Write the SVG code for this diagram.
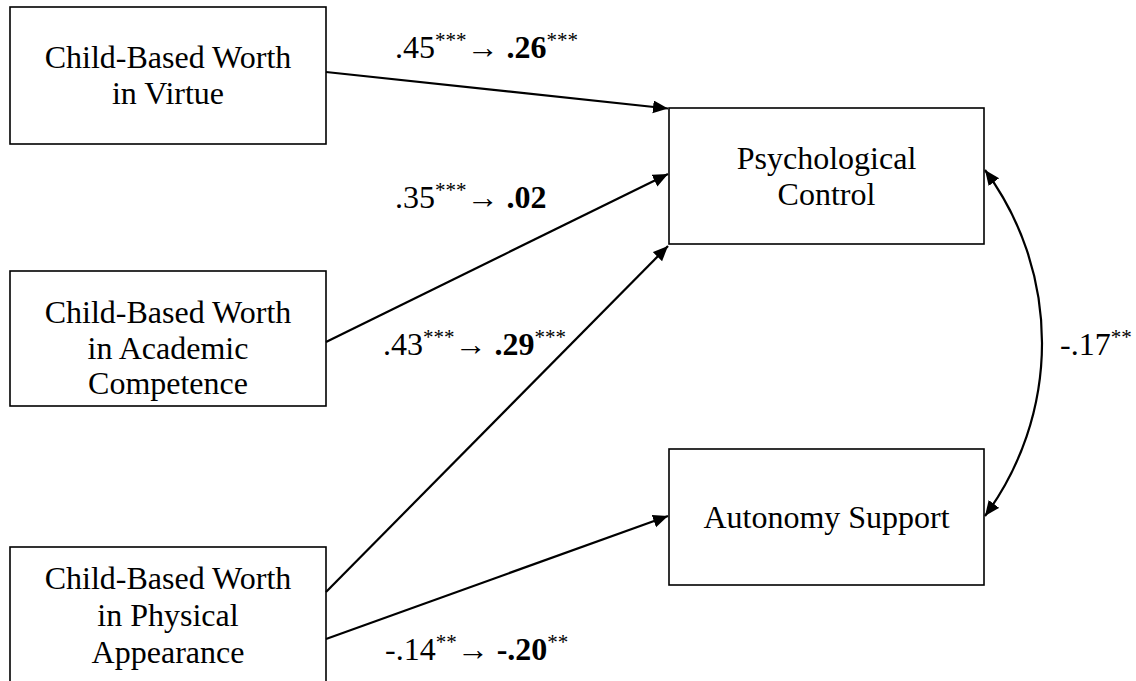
<svg xmlns="http://www.w3.org/2000/svg" width="1136" height="681" viewBox="0 0 1136 681">
<style>
.box{fill:#fff;stroke:#000;stroke-width:1.6}
.t{font-family:"Liberation Serif","Times New Roman",serif;font-size:32px;fill:#000}
.c{text-anchor:middle}
.sup{font-size:21px}
.b{font-weight:bold}
.edge{fill:none;stroke:#000;stroke-width:2.2}
</style>
<defs>
<marker id="ah" markerUnits="userSpaceOnUse" markerWidth="16" markerHeight="14" refX="15" refY="6.5" orient="auto-start-reverse" viewBox="0 0 16 14">
<path d="M0,0 L15,6.5 L0,13 z" fill="#000"/>
</marker>
</defs>
<rect width="1136" height="681" fill="#fff"/>
<g id="n-virtue">
<rect class="box" x="10" y="7" width="316" height="137"/>
<text class="t c" x="168" y="68">Child-Based Worth</text>
<text class="t c" x="168" y="104">in Virtue</text>
</g>
<g id="n-academic">
<rect class="box" x="10" y="271" width="316" height="135"/>
<text class="t c" x="168" y="323">Child-Based Worth</text>
<text class="t c" x="168" y="359">in Academic</text>
<text class="t c" x="168" y="394">Competence</text>
</g>
<g id="n-physical">
<rect class="box" x="10" y="547" width="316" height="150"/>
<text class="t c" x="168" y="589">Child-Based Worth</text>
<text class="t c" x="168" y="626">in Physical</text>
<text class="t c" x="168" y="663">Appearance</text>
</g>
<g id="n-psych">
<rect class="box" x="669" y="108" width="315" height="136"/>
<text class="t c" x="826.5" y="169">Psychological</text>
<text class="t c" x="826.5" y="205">Control</text>
</g>
<g id="n-autonomy">
<rect class="box" x="669" y="449" width="315" height="136"/>
<text class="t c" x="826.5" y="528">Autonomy Support</text>
</g>
<g id="connectors">
<path class="edge" d="M326,72 L668,108.5" marker-end="url(#ah)"/>
<path class="edge" d="M326,342 L668,174" marker-end="url(#ah)"/>
<path class="edge" d="M326,592 L668,246" marker-end="url(#ah)"/>
<path class="edge" d="M326,639 L668,516" marker-end="url(#ah)"/>
<path class="edge" d="M985,170 A291,291 0 0 1 985,516" marker-start="url(#ah)" marker-end="url(#ah)"/>
</g>
<g id="labels">
<text class="t" x="395" y="58">.45<tspan class="sup" dy="-11">***</tspan><tspan dy="11">→ </tspan><tspan class="b">.26</tspan><tspan class="sup" dy="-11">***</tspan></text>
<text class="t" x="395" y="208">.35<tspan class="sup" dy="-11">***</tspan><tspan dy="11">→ </tspan><tspan class="b">.02</tspan></text>
<text class="t" x="383" y="355">.43<tspan class="sup" dy="-11">***</tspan><tspan dy="11">→ </tspan><tspan class="b">.29</tspan><tspan class="sup" dy="-11">***</tspan></text>
<text class="t" x="385" y="660">-.14<tspan class="sup" dy="-11">**</tspan><tspan dy="11">→ </tspan><tspan class="b">-.20</tspan><tspan class="sup" dy="-11">**</tspan></text>
<text class="t" x="1060" y="355">-.17<tspan class="sup" dy="-11">**</tspan></text>
</g>
</svg>
